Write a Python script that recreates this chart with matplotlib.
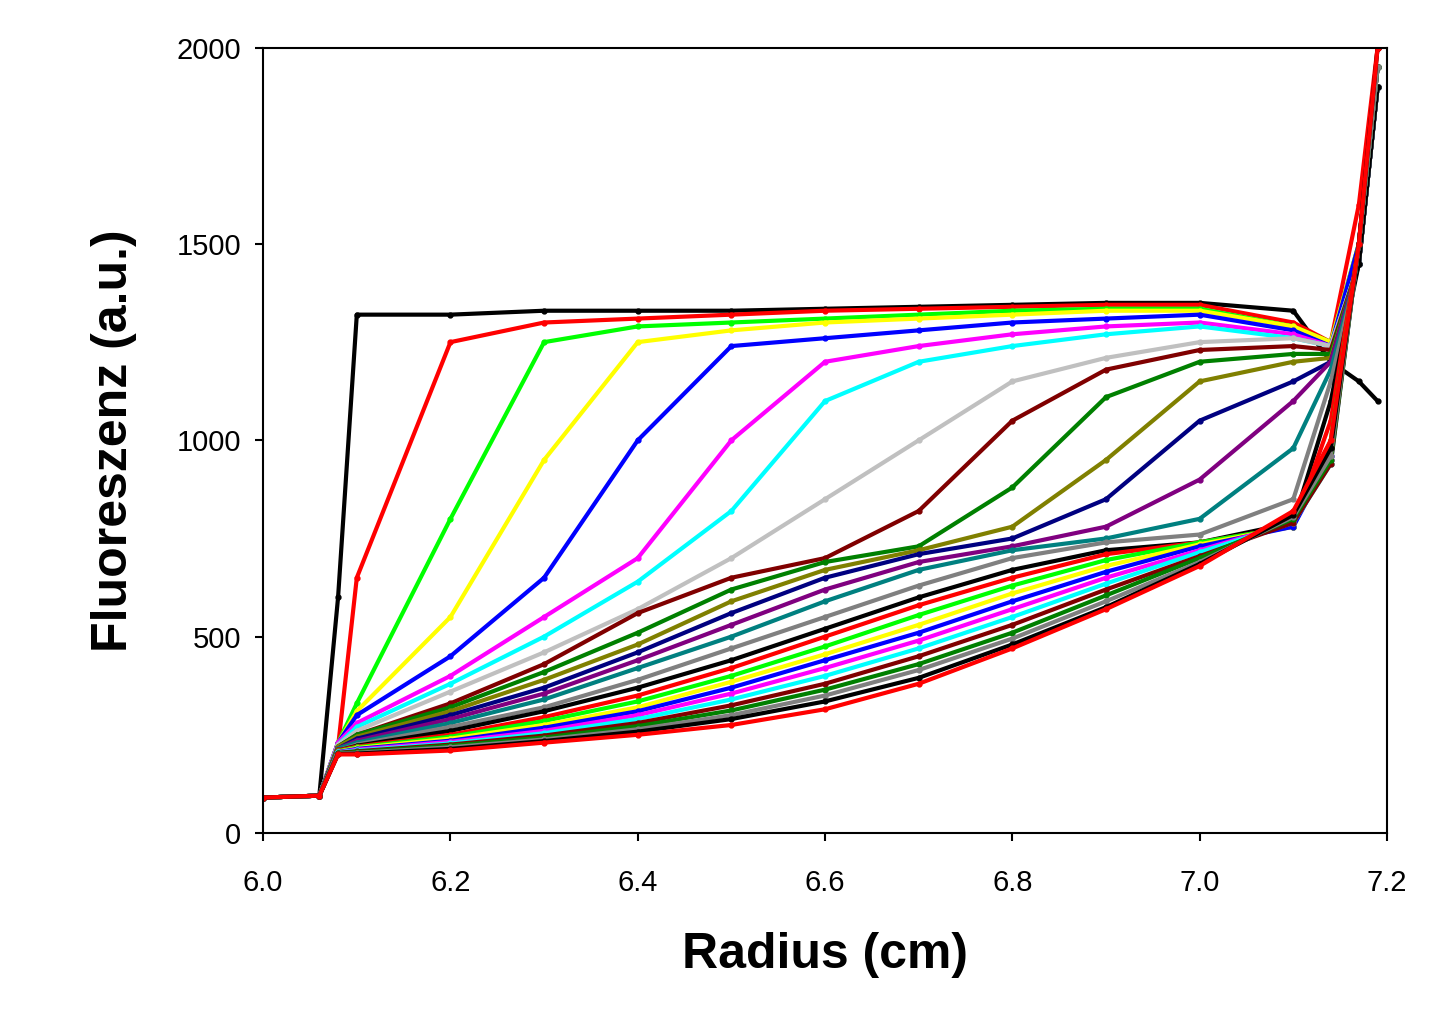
import matplotlib
matplotlib.use("Agg")
import matplotlib.pyplot as plt

plt.rcParams['font.family'] = ['Liberation Sans', 'DejaVu Sans']

radius = [6.00, 6.06, 6.08, 6.10, 6.20, 6.30, 6.40, 6.50, 6.60, 6.70, 6.80, 6.90, 7.00, 7.10, 7.14, 7.17, 7.19]

scans = [
    ("black",   [90, 95, 600, 1320, 1320, 1330, 1330, 1330, 1335, 1340, 1345, 1350, 1350, 1330, 1200, 1150, 1100]),
    ("red",     [90, 95, 220, 650, 1250, 1300, 1310, 1320, 1330, 1335, 1340, 1345, 1345, 1300, 1250, 1600, 2000]),
    ("#00ff00", [90, 95, 230, 330, 800, 1250, 1290, 1300, 1310, 1320, 1330, 1335, 1335, 1290, 1250, 1500, 1950]),
    ("yellow",  [90, 95, 230, 310, 550, 950, 1250, 1280, 1300, 1310, 1320, 1330, 1330, 1290, 1250, 1500, 1950]),
    ("blue",    [90, 95, 230, 300, 450, 650, 1000, 1240, 1260, 1280, 1300, 1310, 1320, 1280, 1240, 1500, 1950]),
    ("magenta", [90, 95, 230, 280, 400, 550, 700, 1000, 1200, 1240, 1270, 1290, 1300, 1270, 1240, 1450, 1900]),
    ("cyan",    [90, 95, 225, 270, 380, 500, 640, 820, 1100, 1200, 1240, 1270, 1290, 1260, 1240, 1450, 1900]),
    ("#c0c0c0", [90, 95, 225, 260, 360, 460, 570, 700, 850, 1000, 1150, 1210, 1250, 1260, 1240, 1450, 1900]),
    ("#800000", [90, 95, 220, 250, 330, 430, 560, 650, 700, 820, 1050, 1180, 1230, 1240, 1230, 1450, 1900]),
    ("green",   [90, 95, 220, 250, 320, 410, 510, 620, 690, 730, 880, 1110, 1200, 1220, 1220, 1450, 1900]),
    ("olive",   [90, 95, 220, 245, 310, 390, 480, 590, 670, 720, 780, 950, 1150, 1200, 1210, 1450, 1900]),
    ("navy",    [90, 95, 215, 240, 300, 370, 460, 560, 650, 710, 750, 850, 1050, 1150, 1200, 1450, 1900]),
    ("purple",  [90, 95, 215, 235, 290, 355, 440, 530, 620, 690, 730, 780, 900, 1100, 1200, 1450, 1900]),
    ("teal",    [90, 95, 215, 230, 280, 340, 420, 500, 590, 670, 720, 750, 800, 980, 1180, 1450, 1900]),
    ("gray",    [90, 95, 210, 225, 270, 320, 390, 470, 550, 630, 700, 740, 760, 850, 1150, 1450, 1900]),
    ("black",   [90, 95, 210, 222, 260, 310, 370, 440, 520, 600, 670, 720, 740, 790, 1100, 1450, 1900]),
    ("red",     [90, 95, 210, 220, 250, 295, 350, 420, 500, 580, 650, 710, 740, 780, 1050, 1500, 1950]),
    ("#00ff00", [90, 95, 208, 218, 245, 285, 335, 400, 475, 555, 630, 695, 740, 780, 1000, 1500, 1950]),
    ("yellow",  [90, 95, 207, 216, 240, 275, 320, 385, 455, 530, 610, 680, 735, 780, 980, 1500, 1950]),
    ("blue",    [90, 95, 206, 214, 235, 268, 310, 370, 440, 510, 590, 665, 730, 780, 960, 1500, 1950]),
    ("magenta", [90, 95, 205, 212, 232, 260, 300, 355, 420, 490, 570, 650, 720, 790, 950, 1500, 1950]),
    ("cyan",    [90, 95, 205, 210, 228, 254, 290, 340, 400, 470, 550, 635, 715, 790, 940, 1500, 1950]),
    ("#800000", [90, 95, 204, 208, 225, 248, 280, 325, 380, 450, 530, 620, 705, 790, 940, 1500, 1950]),
    ("green",   [90, 95, 203, 206, 222, 243, 272, 312, 365, 430, 510, 605, 700, 800, 950, 1500, 1950]),
    ("gray",    [90, 95, 202, 204, 218, 238, 264, 300, 350, 415, 495, 590, 690, 805, 960, 1500, 1950]),
    ("black",   [90, 95, 201, 202, 214, 234, 258, 290, 335, 395, 480, 575, 685, 810, 980, 1500, 2000]),
    ("red",     [90, 95, 200, 200, 210, 230, 250, 275, 315, 380, 470, 570, 680, 820, 1000, 1500, 2000]),
]

fig = plt.figure(figsize=(14.38, 10.36), dpi=100)
ax = fig.add_axes([0.183, 0.196, 0.7815, 0.758])
for color, vals in scans:
    ax.plot(radius, vals, '-', color=color, lw=3, marker='o', ms=3.5,
            markerfacecolor=color, markeredgecolor=color)

ax.set_xlim(6.0, 7.2)
ax.set_ylim(0, 2000)
ax.set_xticks([6.0, 6.2, 6.4, 6.6, 6.8, 7.0, 7.2])
ax.set_xticklabels(["6.0", "6.2", "6.4", "6.6", "6.8", "7.0", "7.2"])
ax.set_yticks([0, 500, 1000, 1500, 2000])
ax.tick_params(labelsize=21, direction='out', length=6, width=1.5)
ax.tick_params(axis='x', pad=20)
ax.tick_params(axis='y', pad=10)
for s in ax.spines.values():
    s.set_linewidth(1.5)
ax.set_xlabel("Radius (cm)", fontsize=36, fontweight='bold', labelpad=25)
ax.set_ylabel("Fluoreszenz (a.u.)", fontsize=36, fontweight='bold', labelpad=28)
fig.savefig("out.png", dpi=100)
